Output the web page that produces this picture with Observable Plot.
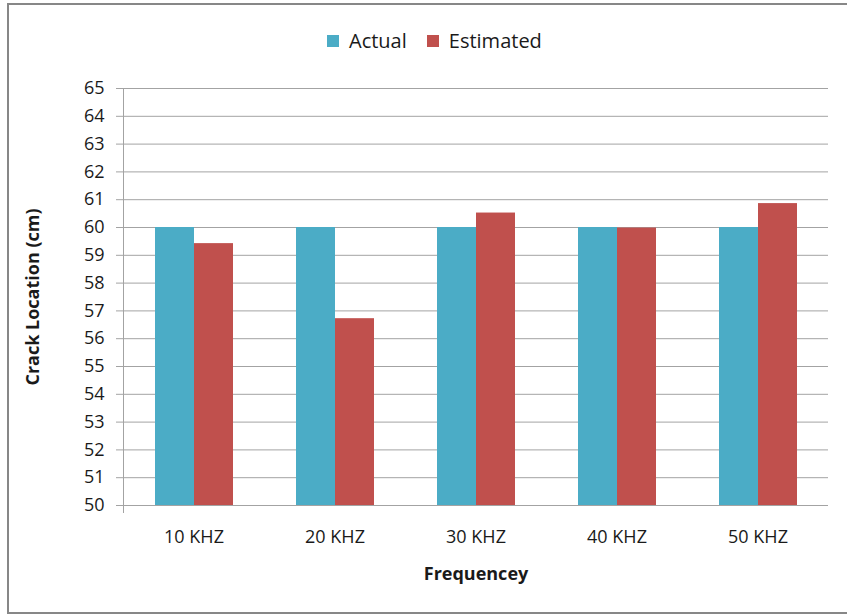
<!DOCTYPE html>
<html>
<head>
<meta charset="utf-8">
<script src="https://cdn.jsdelivr.net/npm/d3@7"></script>
<script src="https://cdn.jsdelivr.net/npm/@observablehq/plot@0.6"></script>
<style>
  body { margin: 0; background: #fff; }
  #wrap { position: relative; width: 847px; height: 615px; overflow: hidden; background: #fff; }
  #chart { position: absolute; left: 0; top: 0; }
  #legend { position: absolute; left: 327px; top: 24px; }
  #border { position: absolute; left: 7px; top: 3px; width: 900px; height: 611px;
            border: 2px solid #878787; box-sizing: border-box; pointer-events: none; }
</style>
</head>
<body>
<div id="wrap">
  <div id="chart"></div>
  <div id="legend"></div>
  <div id="border"></div>
</div>
<script>
// Crack location estimates per excitation frequency
const frequencies = ["10 KHZ", "20 KHZ", "30 KHZ", "40 KHZ", "50 KHZ"];
const series = ["Actual", "Estimated"];
const actual = [60, 60, 60, 60, 60];
const estimated = [59.42, 56.72, 60.52, 59.98, 60.86];
const colors = ["#4BACC6", "#C0504D"];
const yDomain = [50, 65];
const yTicks = [50, 51, 52, 53, 54, 55, 56, 57, 58, 59, 60, 61, 62, 63, 64, 65];

const rows = frequencies.flatMap((f, i) => [
  {frequency: f, series: series[0], value: actual[i]},
  {frequency: f, series: series[1], value: estimated[i]}
]);

const font = "'Open Sans', sans-serif";

const chart = Plot.plot({
  width: 847,
  height: 615,
  marginTop: 88,
  marginBottom: 110,
  marginLeft: 121,
  marginRight: 18,
  style: {fontFamily: font, fontSize: "18px", color: "#1a1a1a", background: "transparent"},
  fx: {domain: frequencies, padding: 0},
  x: {domain: series, paddingInner: 0, paddingOuter: 0.77, axis: null},
  y: {domain: yDomain},
  color: {domain: series, range: colors},
  marks: [
    Plot.gridY(yTicks, {stroke: "#a3a3a3", strokeOpacity: 1}),
    Plot.barY(rows, {fx: "frequency", x: "series", y1: yDomain[0], y2: "value", fill: "series"}),
    Plot.frame({anchor: "left", facetAnchor: "left", stroke: "#a3a3a3", insetBottom: -7}),
    Plot.axisY({
      ticks: yTicks, tickSize: 7, tickPadding: 12, stroke: "#a3a3a3",
      label: "Crack Location (cm)", labelArrow: "none", labelAnchor: "center", labelOffset: 97,
      fontSize: 18
    }),
    Plot.axisFx({
      anchor: "bottom", tickSize: 0, tickPadding: 25,
      label: "Frequencey", labelArrow: "none", labelAnchor: "center", labelOffset: 74,
      fontSize: 18
    })
  ]
});
document.getElementById("chart").append(chart);

// Axis titles are bold
chart.querySelectorAll("[aria-label='y-axis label'] text, [aria-label='fx-axis label'] text")
  .forEach(t => t.setAttribute("font-weight", "bold"));

const legend = Plot.legend({
  color: {domain: series, range: colors},
  legend: "swatches",
  swatchSize: 12,
  style: {fontFamily: font, fontSize: "20px", color: "#1a1a1a"}
});
document.getElementById("legend").append(legend);
</script>
</body>
</html>
